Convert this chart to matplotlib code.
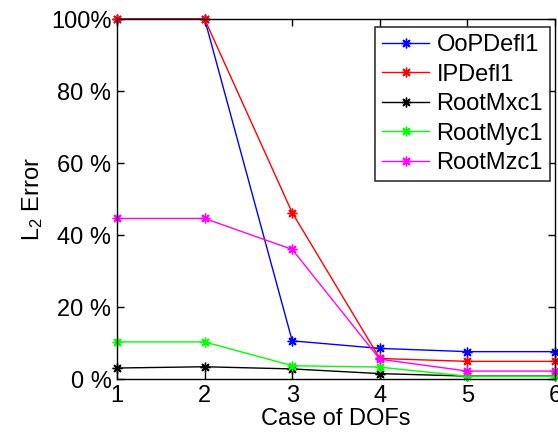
import matplotlib
matplotlib.use("Agg")
import matplotlib.pyplot as plt

plt.rcParams['font.family'] = ['Liberation Sans', 'DejaVu Sans']
plt.rcParams['mathtext.fontset'] = 'custom'
plt.rcParams['mathtext.rm'] = 'Liberation Sans'
plt.rcParams['mathtext.it'] = 'Liberation Sans'

cases = [1, 2, 3, 4, 5, 6]
oop_defl1 = [100, 100, 10.6, 8.5, 7.6, 7.6]
ip_defl1 = [100, 100, 46.2, 5.7, 4.9, 4.9]
root_mxc1 = [3.05, 3.4, 2.8, 1.5, 0.8, 0.8]
root_myc1 = [10.3, 10.3, 3.7, 3.3, 0.75, 0.75]
root_mzc1 = [44.6, 44.6, 36.0, 5.5, 2.2, 2.2]

series = [
    ("OoPDefl1", oop_defl1, "#0000ff"),
    ("IPDefl1", ip_defl1, "#ff0000"),
    ("RootMxc1", root_mxc1, "#000000"),
    ("RootMyc1", root_myc1, "#00ff00"),
    ("RootMzc1", root_mzc1, "#ff00ff"),
]

yticks = [0, 20, 40, 60, 80, 100]
ytick_labels = ["0 %", "20 %", "40 %", "60 %", "80 %", "100%"]

fig = plt.figure(figsize=(5.58, 4.34), dpi=100)
ax = fig.add_axes([117/558, 1-379/434, (555-117)/558, (379-19)/434])

for name, vals, col in series:
    ax.plot(cases, vals, color=col, lw=1.0, marker=(8, 2, 0), markersize=7,
            markeredgewidth=1.0, label=name, clip_on=False)

ax.set_xlim(1, 6)
ax.set_ylim(0, 100)
ax.set_xticks(cases)
ax.set_yticks(yticks)
ax.set_yticklabels(ytick_labels)
ax.tick_params(direction='in', length=5, width=1, labelsize=17,
               top=True, right=True, pad=4)
for s in ax.spines.values():
    s.set_linewidth(1.0)

ax.set_xlabel("Case of DOFs", fontsize=17, labelpad=1)
ax.set_ylabel(r"$\mathregular{L_2}$ Error", fontsize=17, labelpad=4)

leg = ax.legend(loc='upper right', fontsize=17, frameon=True, fancybox=False,
                edgecolor='black', borderpad=0.3, handlelength=2.0,
                handletextpad=0.3, labelspacing=0.32, borderaxespad=0,
                bbox_to_anchor=(550/558, 1-27/434), bbox_transform=fig.transFigure)
leg.get_frame().set_linewidth(1.2)

fig.savefig("out.png", dpi=100)
